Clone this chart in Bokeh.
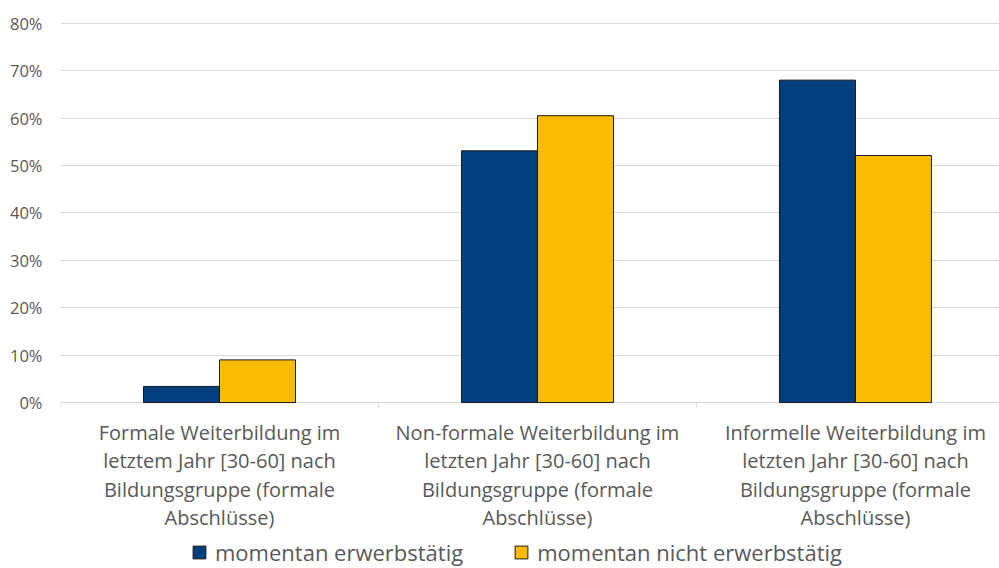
from bokeh.plotting import figure
from bokeh.models import Range1d, FixedTicker, Legend, LegendItem, ColumnDataSource
from bokeh.transform import dodge
from bokeh.core.properties import value
from bokeh.embed import file_html
from bokeh.resources import INLINE

categories = [
    "Formale Weiterbildung im\nletztem Jahr [30-60] nach\nBildungsgruppe (formale\nAbschlüsse)",
    "Non-formale Weiterbildung im\nletzten Jahr [30-60] nach\nBildungsgruppe (formale\nAbschlüsse)",
    "Informelle Weiterbildung im\nletzten Jahr [30-60] nach\nBildungsgruppe (formale\nAbschlüsse)",
]
series_names = ["momentan erwerbstätig", "momentan nicht erwerbstätig"]
erwerbstaetig = [3.4, 53.1, 68.0]
nicht_erwerbstaetig = [9.0, 60.5, 52.1]
y_ticks = [0, 10, 20, 30, 40, 50, 60, 70, 80]

FONT = "Open Sans"
TXT = "#595959"
GRID = "#d9d9d9"

n = len(categories)
xpos = [i + 0.5 for i in range(n)]
bounds = list(range(n + 1))
src = ColumnDataSource(dict(x=xpos, a=erwerbstaetig, b=nicht_erwerbstaetig, cat=categories))

p = figure(width=999, height=568, output_backend="svg", toolbar_location=None,
           x_range=Range1d(0, 2.953), y_range=Range1d(-35.0, 81),
           x_axis_location=None,
           min_border_left=60, min_border_right=0, min_border_top=18, min_border_bottom=0)
p.outline_line_color = None
p.background_fill_color = "white"

# y axis
p.yaxis.ticker = FixedTicker(ticks=y_ticks)
p.yaxis.major_label_overrides = {t: f"{t}%" for t in y_ticks}
p.yaxis.axis_line_color = None
p.yaxis.major_tick_line_color = None
p.yaxis.major_tick_out = 0
p.yaxis.major_tick_in = 0
p.yaxis.minor_tick_line_color = None
p.yaxis.major_label_standoff = 18
p.yaxis.major_label_text_font = FONT
p.yaxis.major_label_text_font_size = "16.5px"
p.yaxis.major_label_text_color = TXT

p.xgrid.grid_line_color = None
p.ygrid.grid_line_color = GRID
p.ygrid.ticker = FixedTicker(ticks=y_ticks)

# category separator ticks below the baseline
p.segment(x0=bounds, x1=bounds, y0=[0] * len(bounds), y1=[-1.05] * len(bounds),
          line_color=GRID, line_width=1)

bw = 0.239
r1 = p.vbar(x=dodge("x", -bw / 2, range=p.x_range), top="a", width=bw, bottom=0, source=src,
            fill_color="#003f7d", line_color="#1a1a1a", line_width=1)
r2 = p.vbar(x=dodge("x", bw / 2, range=p.x_range), top="b", width=bw, bottom=0, source=src,
            fill_color="#fbbb00", line_color="#1a1a1a", line_width=1)

# category labels
p.text(x="x", y=0, text="cat", source=src, y_offset=16,
       text_align="center", text_baseline="top",
       text_font=value(FONT), text_font_size="20px", text_color=TXT,
       text_line_height=1.06)

legend = Legend(items=[LegendItem(label=series_names[0], renderers=[r1]),
                       LegendItem(label=series_names[1], renderers=[r2])],
                orientation="horizontal", location=(131, 1),
                label_text_font=FONT, label_text_font_size="22px", label_text_color=TXT,
                glyph_width=16, glyph_height=16, spacing=50, padding=0, margin=0,
                label_standoff=8, border_line_color=None, background_fill_alpha=0)
p.add_layout(legend)

open("out.html", "w").write(file_html(p, INLINE))
